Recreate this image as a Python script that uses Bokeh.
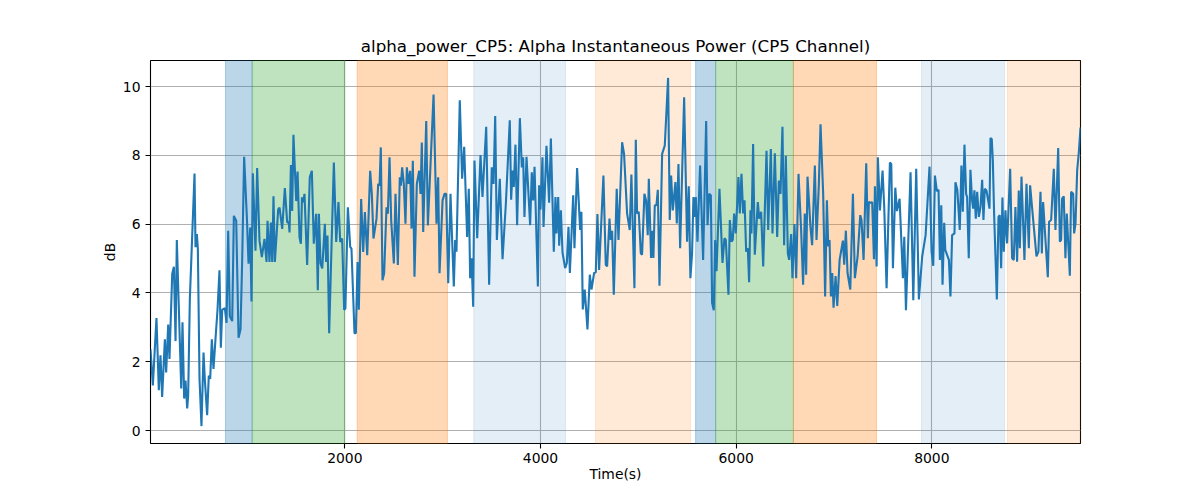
from bokeh.plotting import figure
from bokeh.models import BoxAnnotation, Range1d, FixedTicker
from bokeh.embed import file_html
from bokeh.resources import INLINE

# ---- data ----
time_s = [
    14, 38, 75, 99, 116, 133, 161, 174, 195, 208, 236, 253, 270, 283, 304, 328, 341, 358, 372, 389,
    399, 416, 464, 474, 488, 498, 515, 535, 556, 569, 593, 610, 624, 641, 658, 678, 699, 719, 733, 747,
    774, 791, 808, 825, 849, 866, 890, 914, 934, 951, 971, 999, 1016, 1033, 1046, 1060, 1087, 1104, 1128, 1152,
    1179, 1200, 1210, 1230, 1244, 1258, 1271, 1285, 1319, 1333, 1360, 1387, 1411, 1428, 1435, 1449, 1462, 1475, 1503, 1517,
    1537, 1551, 1562, 1575, 1588,
    1615, 1642, 1663, 1683, 1707, 1724, 1735, 1752, 1769, 1796, 1809, 1823, 1840, 1864, 1888, 1912, 1935, 1953, 1973, 1993,
    2006, 2031, 2055, 2068, 2099, 2113, 2130, 2143, 2167, 2188, 2205, 2229, 2259, 2276, 2293, 2324, 2341, 2355, 2368, 2385,
    2402, 2426, 2440, 2457, 2474, 2501, 2518, 2542, 2562, 2573, 2586, 2603, 2620, 2634, 2651, 2668, 2682, 2695, 2712, 2736,
    2760, 2774, 2787, 2801, 2832, 2849, 2907, 2937, 2954, 2968, 2999, 3019, 3036, 3057,
    3080, 3114, 3128, 3141, 3175, 3199, 3220, 3250, 3267, 3281, 3295, 3312, 3325, 3353, 3387, 3407, 3445, 3475, 3502, 3520,
    3537, 3554, 3584, 3612, 3646, 3686, 3700, 3714, 3727, 3744, 3761, 3789, 3809, 3823, 3836, 3857, 3894, 3911, 3925, 3939,
    3973, 3986, 4000, 4020, 4031, 4061, 4088, 4106, 4136, 4153, 4163, 4181, 4191, 4208, 4225, 4252, 4269, 4286, 4300, 4334,
    4347, 4374,
    4405, 4418, 4432, 4452, 4480, 4504, 4521, 4548, 4565, 4582, 4599, 4643, 4667, 4681, 4705, 4718, 4732, 4749, 4779, 4797,
    4834, 4854, 4885, 4912, 4929, 4960, 4974, 4987, 5004, 5025, 5038, 5062, 5079, 5096, 5107, 5130, 5141, 5154, 5168, 5185,
    5199, 5216, 5243, 5270, 5304, 5321, 5335, 5352, 5379, 5393, 5410, 5427, 5468, 5498, 5515, 5532, 5549, 5563, 5577, 5587,
    5604, 5631,
    5662, 5693, 5707, 5724, 5741, 5754, 5771, 5785, 5799, 5829, 5860, 5880, 5894, 5921, 5935, 5952, 5965, 5979, 5996, 6023,
    6037, 6054, 6071, 6085, 6102, 6119, 6132, 6146, 6156, 6173, 6190, 6221, 6235, 6255, 6276, 6310, 6327, 6354, 6371, 6395,
    6419, 6436, 6453, 6473, 6490, 6507, 6528, 6541, 6562, 6575, 6596, 6613, 6637, 6664, 6684, 6701, 6715, 6729, 6759, 6776,
    6804, 6821, 6845, 6862, 6889, 6909,
    6927, 6941, 6954, 6968, 6982, 6995, 7016, 7033, 7057, 7091, 7104, 7121, 7138, 7166, 7193, 7213, 7241, 7268, 7281, 7302,
    7329, 7346, 7356, 7377, 7390, 7408, 7418, 7435, 7448, 7469, 7496, 7513, 7537, 7571, 7585, 7602, 7626, 7643, 7670, 7704,
    7718, 7735, 7782, 7810, 7840, 7867, 7901, 7936, 7976, 7997, 8014, 8031, 8051, 8068, 8082, 8096, 8109, 8126, 8137, 8174,
    8190,
    8207, 8231, 8241, 8260, 8285, 8302, 8316, 8333, 8350, 8360, 8377, 8394, 8411, 8422, 8435, 8449, 8463, 8480, 8497, 8514,
    8527, 8541, 8558, 8589, 8599, 8612, 8623, 8636, 8664, 8681, 8694, 8708, 8721, 8735, 8752, 8769, 8800, 8820, 8837, 8854,
    8871, 8888, 8899, 8916, 8946, 8967, 8991, 9004, 9025, 9069, 9089, 9110, 9124, 9137, 9161, 9185, 9198, 9219, 9246, 9263,
    9291, 9308, 9321, 9331, 9348, 9365, 9379, 9410, 9423, 9444, 9454, 9468, 9485, 9502, 9519,
]

power_db = [
    2.36, 1.31, 3.27, 1.17, 2.19, 0.98, 2.65, 1.69, 3.08, 2.08, 4.56, 4.76, 2.60, 5.54, 3.51, 1.22, 3.15, 0.93, 1.45, 0.64,
    1.02, 3.82, 7.47, 5.33, 5.71, 5.28, 1.50, 0.13, 2.27, 1.50, 0.45, 1.60, 1.50, 2.65, 1.79, 2.65, 3.51, 4.66, 2.41, 3.51,
    3.56, 3.13, 5.81, 3.32, 3.18, 6.24, 6.10, 2.70, 2.94, 4.95, 7.96, 6.19, 4.85, 5.90, 3.75, 7.48, 5.23, 7.63, 5.52, 5.04,
    5.57, 4.90, 6.10, 4.90, 6.05, 4.90, 6.81, 4.90, 6.43, 6.48, 5.86, 7.05, 6.05, 6.05, 5.76, 7.72, 6.38, 8.60, 6.67, 7.53,
    5.62, 5.43, 6.78, 6.64, 6.88,
    4.81, 7.36, 7.55, 5.43, 6.30, 4.08, 6.30, 4.86, 4.71, 6.01, 4.90, 5.67, 2.83, 5.34, 7.79, 5.48, 6.64, 5.48, 5.58, 3.51,
    3.55, 6.49, 5.34, 5.29, 2.83, 2.83, 4.90, 3.51, 6.73, 5.19, 6.35, 5.10, 7.55, 6.88, 5.58, 6.16, 7.17, 7.12, 8.23, 4.37,
    4.57, 6.49, 6.30, 7.94, 6.11, 4.86, 6.88, 4.81, 7.36, 7.12, 7.65, 7.17, 6.01, 7.65, 7.17, 7.55, 5.87, 7.84, 4.47, 7.17,
    7.55, 6.88, 8.37, 5.77, 9.00, 5.96, 9.77, 6.01, 7.36, 4.57, 6.69, 6.88, 6.88, 4.28,
    6.88, 4.19, 5.54, 5.20, 9.60, 7.32, 8.25, 5.63, 7.03, 4.43, 5.01, 3.60, 7.85, 5.59, 8.01, 6.79, 8.83, 4.24, 7.65, 7.17,
    9.14, 5.54, 7.32, 4.98, 6.60, 9.02, 6.71, 7.56, 7.08, 8.31, 5.97, 9.08, 7.65, 7.94, 6.21, 7.96, 5.97, 7.51, 6.69, 7.67,
    4.19, 7.13, 6.42, 7.94, 5.92, 8.28, 6.62, 8.49, 5.20, 6.79, 5.73, 6.79, 5.37, 6.40, 5.17, 4.72, 4.87, 5.92, 4.58, 6.84,
    5.30, 7.63,
    5.83, 6.36, 3.52, 4.10, 2.94, 4.53, 4.10, 4.58, 4.60, 6.29, 4.67, 7.41, 4.82, 4.77, 6.16, 5.54, 5.81, 3.95, 7.03, 5.54,
    8.38, 8.04, 6.31, 5.83, 7.44, 4.14, 8.45, 6.31, 6.36, 5.15, 5.11, 6.88, 6.69, 5.68, 7.32, 5.02, 5.81, 5.02, 6.55, 6.55,
    7.00, 4.21, 8.04, 8.28, 10.25, 6.12, 7.41, 6.40, 7.22, 6.02, 7.75, 5.30, 9.69, 5.49, 7.10, 4.43, 5.15, 6.79, 6.21, 6.79,
    5.49, 7.70,
    4.96, 9.00, 5.97, 6.88, 6.84, 3.71, 3.50, 5.54, 4.63, 7.03, 4.87, 5.59, 5.54, 3.95, 6.12, 5.49, 5.54, 6.31, 5.73, 7.37,
    6.31, 7.46, 6.31, 6.69, 5.20, 5.30, 4.31, 6.40, 5.73, 8.33, 5.11, 6.64, 6.16, 6.36, 4.77, 8.13, 5.83, 8.18, 5.73, 8.06,
    5.63, 7.27, 6.88, 8.83, 5.39, 7.99, 5.15, 4.96, 5.71, 4.43, 6.00, 4.43, 7.46, 5.81, 4.24, 6.31, 4.53, 7.38, 5.92, 5.39,
    7.70, 5.54, 7.17, 8.90, 6.88, 3.90,
    6.69, 5.35, 5.54, 3.90, 4.58, 3.57, 4.49, 3.62, 4.96, 5.52, 4.82, 5.81, 4.58, 4.10, 6.88, 4.43, 5.06, 6.26, 6.12, 4.96,
    7.77, 5.59, 6.64, 6.62, 6.64, 4.98, 7.10, 4.77, 7.94, 6.40, 7.56, 6.50, 4.14, 7.79, 7.75, 4.72, 7.06, 6.38, 6.74, 4.43,
    5.63, 3.50, 7.51, 3.79, 7.61, 3.81, 5.06, 5.68, 7.67, 5.20, 4.79, 7.41, 6.96, 7.00, 4.96, 6.55, 4.24, 6.04, 5.25, 4.96,
    3.90,
    5.68, 5.73, 7.22, 7.00, 5.83, 7.70, 6.36, 8.31, 6.88, 6.79, 5.01, 7.58, 6.69, 6.45, 6.98, 6.16, 6.94, 6.21, 6.50, 7.29,
    6.12, 7.03, 6.98, 6.45, 8.50, 8.47, 7.85, 6.31, 3.81, 6.21, 6.26, 4.72, 6.77, 5.20, 6.40, 5.44, 7.61, 5.01, 4.96, 6.50,
    4.91, 6.98, 5.30, 7.38, 4.96, 7.17, 5.30, 7.13, 6.45, 5.06, 5.20, 6.94, 5.15, 6.64, 5.54, 4.46, 6.07, 6.12, 7.61, 5.83,
    8.21, 5.49, 5.54, 6.74, 6.81, 5.01, 6.31, 4.50, 6.94, 6.88, 5.73, 6.02, 7.56, 8.09, 8.81,
]

span_start = [780, 1053, 2126, 3318, 4562, 5585, 5790, 6585, 7894, 8773]
span_end = [1053, 2000, 3049, 4255, 5533, 5790, 6585, 7434, 8742, 9519]
span_kind = ["blue", "green", "orange", "lightblue", "lightorange",
             "blue", "green", "orange", "lightblue", "lightorange"]

x_ticks = [2000, 4000, 6000, 8000]
y_ticks = [0, 2, 4, 6, 8, 10]

TITLE = "alpha_power_CP5: Alpha Instantaneous Power (CP5 Channel)"

# ---- styling ----
span_style = {
    "blue": ("#1f77b4", 0.3),
    "green": ("#2ca02c", 0.3),
    "orange": ("#ff7f0e", 0.3),
    "lightblue": ("#1f77b4", 0.12),
    "lightorange": ("#ff7f0e", 0.16),
}
FONT = "DejaVu Sans"

vmin, vmax = min(power_db), max(power_db)
pad = 0.05 * (vmax - vmin)

p = figure(
    width=1184, height=484,
    output_backend="svg", toolbar_location=None,
    x_range=Range1d(time_s[0], time_s[-1]),
    y_range=Range1d(vmin - pad, vmax + pad),
    min_border_left=150, min_border_right=104,
    min_border_top=60, min_border_bottom=39,
    title=TITLE,
)

p.title.text_font = FONT
p.title.text_font_size = "16.7px"
p.title.text_font_style = "normal"
p.title.align = "center"
p.title.text_color = "black"

p.outline_line_color = "black"
p.outline_line_width = 1.1
p.background_fill_color = "white"
p.border_fill_color = "white"

for s, e, k in zip(span_start, span_end, span_kind):
    c, a = span_style[k]
    p.add_layout(BoxAnnotation(left=s, right=e, fill_color=c, fill_alpha=a,
                               line_color=c, line_alpha=a, line_width=1, level="underlay"))

p.line(time_s, power_db, line_color="#1f77b4", line_width=2.1)

p.xaxis.ticker = FixedTicker(ticks=x_ticks)
p.yaxis.ticker = FixedTicker(ticks=y_ticks)
p.xaxis.axis_label = "Time(s)"
p.yaxis.axis_label = "dB"

for ax in (p.xaxis, p.yaxis):
    ax.axis_label_text_font = FONT
    ax.axis_label_text_font_size = "13.9px"
    ax.axis_label_text_font_style = "normal"
    ax.axis_label_text_color = "black"
    ax.major_label_text_font = FONT
    ax.major_label_text_font_size = "13.9px"
    ax.major_label_text_color = "black"
    ax.minor_tick_line_color = None
    ax.major_tick_in = 0
    ax.major_tick_out = 5
    ax.major_tick_line_color = "black"
    ax.major_tick_line_width = 1.1
    ax.axis_line_color = None

p.xaxis.major_label_standoff = 4
p.xaxis.axis_label_standoff = 0
p.yaxis.major_label_standoff = 5
p.yaxis.axis_label_standoff = 2
p.yaxis.major_label_orientation = "horizontal"

p.grid.grid_line_color = "#b0b0b0"
p.grid.grid_line_width = 1.1

open("out.html", "w").write(file_html(p, INLINE))
